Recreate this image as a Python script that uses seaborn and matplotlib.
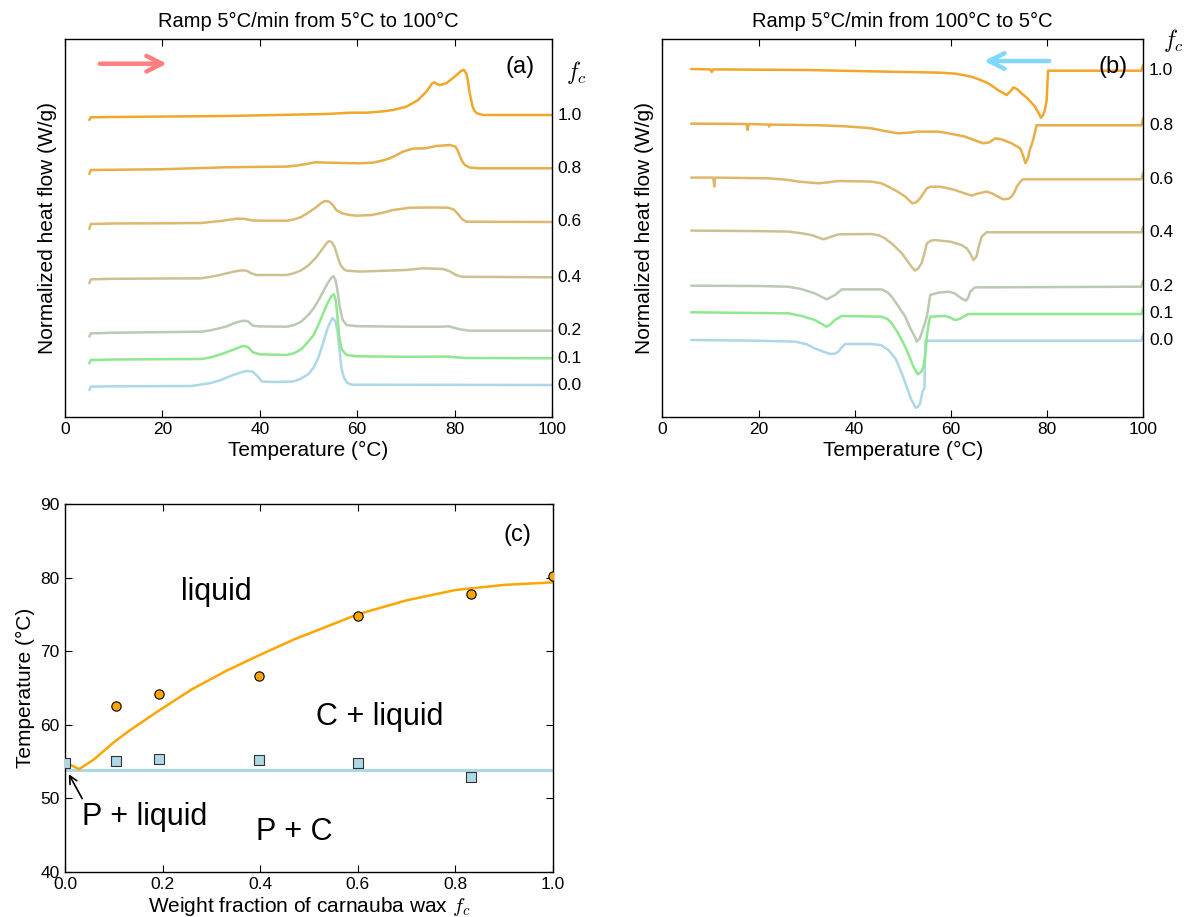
import numpy as np
import pandas as pd
import matplotlib
matplotlib.use("Agg")
import matplotlib.pyplot as plt
import seaborn as sns

# ---------------- data ----------------
FC_LEVELS = [0.0, 0.1, 0.2, 0.4, 0.6, 0.8, 1.0]
FC_LABELS = ["0.0", "0.1", "0.2", "0.4", "0.6", "0.8", "1.0"]
CURVE_COLORS = ["#ADD8E6", "#8FE88F", "#BACAB3", "#CEC190", "#DDB86E", "#E8AE48", "#F2A62A"]

# vertical offsets of each thermogram (arbitrary normalized heat flow units)
OFFSET_HEAT = [31.7, 58.4, 86.0, 139.4, 194.7, 248.4, 301.7]
OFFSET_COOL = [76.0, 102.7, 130.0, 184.4, 237.4, 291.4, 346.0]

# --- heating scans (panel a): temperature (°C) and heat flow relative to baseline
HEAT_T_00 = [5.0, 5.3, 10, 26, 30, 32, 34, 36, 37.3, 38.5, 39.5, 40.4, 43, 46.9, 48.5, 50, 51, 52, 53, 54, 54.9,
             55.5, 56.0, 56.4, 56.8, 57.3, 58.0, 58.8, 100]
HEAT_Y_00 = [-5, -1.7, -1.3, -1, 2, 5, 9, 12.5, 14, 13.5, 9, 3.5, 3, 3.5, 6.5, 11, 17, 27, 42, 58, 67,
             64, 52, 33, 16, 7, 2, 0.3, 0]
HEAT_T_01 = [5.0, 5.3, 10, 28, 30, 32, 34.5, 36.5, 37.5, 38.6, 40, 45.5, 47, 48.5, 50, 51, 52, 53, 54, 54.7, 55.2,
             55.6, 55.9, 56.3, 56.8, 57.8, 60, 70, 78.7, 82, 100]
HEAT_Y_01 = [-5, -1.7, -1.2, -0.7, 1, 4, 8.5, 12.3, 11.5, 6, 4, 3.3, 5, 9, 17, 23, 33, 45, 56, 62, 64,
             58, 44, 22, 9, 3.3, 2, 1.5, 1.7, 0.3, 0]
HEAT_T_02 = [5.0, 5.3, 10, 28, 30, 33, 35, 36.5, 37.5, 38.6, 40, 45.5, 47, 48.5, 50, 51, 52, 53, 54, 54.7, 55.1,
             55.5, 55.9, 56.4, 57.0, 57.8, 60, 70, 77.6, 78.7, 81, 83.1, 100]
HEAT_Y_02 = [-6, -2.7, -2, -1, 0.5, 4, 8, 10, 9.5, 5, 4.3, 4, 5.5, 9, 16, 22, 30, 39, 48, 53, 54.7,
             51, 42, 24, 11, 5.7, 4.5, 4, 4, 4.5, 1.5, 0, 0]
HEAT_T_04 = [5.0, 5.3, 10, 28, 30, 32, 34.5, 36.3, 37.3, 38.3, 39.3, 42, 45.5, 47, 48.5, 50, 51.5, 52.8, 53.7, 54.2,
             54.8, 55.4, 56.0, 56.6, 57.3, 57.8, 60.5, 65, 70.1, 73.5, 77.6, 79.0, 80.2, 81.5, 100]
HEAT_Y_04 = [-6, -2, -1.5, -1, 0.5, 2.5, 5.5, 7, 6.5, 4, 2.3, 2.3, 2.3, 4, 7, 12, 19.5, 28, 34, 36.3,
             35, 30, 20, 12, 8, 6.7, 5.7, 6.5, 7.3, 9, 8.3, 6, 2.5, 0.5, 0]
HEAT_T_06 = [5.0, 5.3, 10, 20, 28, 30, 32, 35.2, 36.5, 37.5, 38.6, 41, 45.5, 47, 48.5, 50, 51.5, 52.6, 53.4, 54.2,
             55.0, 55.7, 57.0, 58.5, 59.8, 63, 65, 67.4, 70.8, 75, 78.7, 79.8, 80.7, 81.5, 82.4, 100]
HEAT_Y_06 = [-7, -2, -1.5, -1.3, -1, 0, 1, 3.3, 3.3, 2.5, 1.5, 1.3, 1.3, 2.5, 5, 9.5, 14.5, 19, 21, 20.5,
             17, 12, 8.5, 7, 6.3, 7, 9, 12, 14.3, 14.5, 14.3, 12.5, 8, 3, 0.3, 0]
HEAT_T_08 = [5.0, 5.3, 19.5, 33, 45.5, 47.5, 49.6, 51.3, 53.7, 57, 60.5, 63.3, 65, 66.7, 68, 69.4, 71.5, 73.9,
             76.3, 79.0, 80.2, 80.6, 81.0, 81.5, 82.1, 83.1, 85.2, 100]
HEAT_Y_08 = [-5.7, -1.7, -1, 1, 1.7, 2.7, 4.3, 6, 5.7, 5.3, 5, 5.7, 7.5, 10, 13, 16.7, 19.7, 20,
             22.3, 23.3, 21.7, 18, 13.3, 7.5, 3.3, 0.7, 0, 0]
HEAT_T_10 = [5.0, 5.3, 10, 33, 53.7, 58.5, 62, 65, 67.4, 70.1, 72.5, 74.2, 75.4, 75.9, 76.5, 77.0, 78.3, 80.0,
             81.4, 81.9, 82.4, 82.7, 83.0, 83.4, 83.7, 84.1, 84.6, 85.8, 100]
HEAT_Y_10 = [-5, -2.3, -2, -1, 1, 2.3, 2.3, 3.5, 5, 8.3, 15, 23.3, 31.7, 32.7, 30.5, 30, 31.7, 38.3,
             44.3, 45, 41.7, 35, 25, 15, 8.3, 4, 1.7, 0, 0]

# --- cooling scans (panel b)
COOL_T_00 = [6, 20, 27.7, 30, 31.7, 33.5, 34.9, 35.8, 36.6, 37.3, 38, 43.5, 45.5, 47, 48.5, 49.8, 50.8, 51.8,
             52.7, 53.2, 53.6, 54.1, 54.5, 54.7, 70, 99.6, 100]
COOL_Y_00 = [0.7, 0, -1, -3.5, -7.7, -11, -13.3, -13, -11, -6.5, -3.3, -3.3, -4.5, -9.3, -18, -32.7, -46, -59.3,
             -67, -66, -62.7, -51, -47.7, 0, 0, 0, 5.7]
COOL_T_01 = [6, 20, 26.2, 29, 31.7, 34.2, 35.0, 35.9, 37.3, 45.6, 46.8, 47.7, 49, 50.5, 51.5, 52.2, 53.1, 53.8,
             54.3, 54.7, 55.0, 55.4, 55.7, 58.8, 59.8, 60.8, 61.8, 62.6, 63.6, 99.6, 100]
COOL_Y_01 = [1.7, 1, 0.7, -2, -6, -12.7, -10, -6, -2, -2.7, -5, -9.3, -19, -32.7, -44, -52.7, -60.3, -58,
             -52.7, -40, -22.7, -9, -2.7, -2, -3.5, -6, -5, -2.7, 0, 0, 5.7]
COOL_T_02 = [6, 20, 26.2, 29, 31.7, 34.2, 35.0, 35.9, 37.3, 45.6, 46.8, 47.7, 49, 50.5, 51.5, 52.5, 52.9, 53.5,
             53.9, 54.5, 55.0, 55.4, 55.7, 57.4, 59.5, 60.8, 62.2, 63.1, 63.6, 64, 65, 99.6, 100]
COOL_Y_02 = [1, 0.7, 0, -2.5, -6.7, -12.7, -10.5, -8.3, -2.7, -2.7, -5.5, -10, -19, -30, -41, -50, -55, -52,
             -46.7, -38, -30, -18, -8.3, -6, -5, -6.7, -11.7, -14, -11, -5, -0.7, 0, 6.7]
COOL_T_04 = [6, 20, 26.2, 29, 31, 33.5, 34.5, 35.2, 36.6, 43.5, 45, 46.3, 48, 49.8, 51, 51.8, 52.5, 53.2,
             53.9, 54.5, 55, 55.8, 56.7, 60, 62.2, 63.3, 63.9, 64.7, 65.3, 65.8, 66.4, 67.4, 99.6, 100]
COOL_Y_04 = [1.7, 1.2, 0.7, -1, -2.7, -7, -5.5, -4.3, -2, -1.7, -3, -6, -12.5, -21, -29, -34.3, -38.3, -36,
             -31, -21, -11, -8.5, -7.7, -9.5, -12.7, -16, -20.3, -27.7, -24.3, -14, -4.3, 0, 0, 5.7]
COOL_T_06 = [6, 10.6, 10.8, 11.0, 22, 26, 28.3, 32.4, 34.5, 36.6, 43.5, 45.5, 47, 48.8, 50.5, 51.3, 52, 52.8,
             53.6, 54.3, 55, 55.7, 57.4, 59, 60.8, 62.5, 64.3, 65.8, 67.4, 68.5, 69.5, 70.9, 72.0, 72.6, 73.2,
             73.7, 74.4, 75, 99.6, 100]
COOL_Y_06 = [1.7, 1.7, -7.3, 1.7, 1, -0.5, -2.3, -4, -3, -1.7, -2.3, -4, -7.3, -12, -17.3, -21, -24, -23,
             -19, -14, -9, -7.5, -7.3, -8.5, -10.7, -13.5, -16.3, -14, -12.3, -14, -16.7, -20, -19.5, -17.3,
             -13, -7.3, -2.5, 0, 0, 6.7]
COOL_T_08 = [6, 17.5, 17.7, 18.0, 22.1, 22.2, 22.4, 33, 38, 43.5, 46, 49, 51, 53.2, 57.4, 60, 62.9, 65,
             66.7, 68, 69.2, 70.5, 72.6, 74.4, 75.0, 75.5, 76.0, 76.4, 77.1, 77.8, 99.6, 100]
COOL_Y_08 = [1.7, 1.3, -4.7, 1.3, 0.7, -1.3, 0.7, 0, -1, -3, -5.5, -8, -7.5, -6.3, -6.3, -8.5, -11.3, -15,
             -18, -17, -13, -14, -18, -23, -30, -38, -33, -24.7, -14.7, 0, 0, 7]
COOL_T_10 = [6, 10.0, 10.3, 10.6, 30, 47, 53, 58, 61, 64.3, 66, 67.8, 70, 71.6, 72.3, 73.0, 73.8, 74.7,
             76, 77.5, 78.2, 78.7, 79.2, 79.6, 79.9, 80.2, 99.6, 100]
COOL_Y_10 = [1.7, 1.3, -1.3, 1.3, 0.7, -1, -1.5, -2, -3, -6, -9, -12.7, -20, -24.3, -21, -16.7, -18.5, -22.7,
             -28, -36, -42, -47, -44, -38, -30, 0, 0, 5.7]

HEAT_T = [HEAT_T_00, HEAT_T_01, HEAT_T_02, HEAT_T_04, HEAT_T_06, HEAT_T_08, HEAT_T_10]
HEAT_Y = [HEAT_Y_00, HEAT_Y_01, HEAT_Y_02, HEAT_Y_04, HEAT_Y_06, HEAT_Y_08, HEAT_Y_10]
COOL_T = [COOL_T_00, COOL_T_01, COOL_T_02, COOL_T_04, COOL_T_06, COOL_T_08, COOL_T_10]
COOL_Y = [COOL_Y_00, COOL_Y_01, COOL_Y_02, COOL_Y_04, COOL_Y_06, COOL_Y_08, COOL_Y_10]

# --- phase diagram (panel c)
LIQUIDUS_F = [0.104, 0.193, 0.397, 0.600, 0.832, 1.0]
LIQUIDUS_T = [62.5, 64.1, 66.6, 74.8, 77.7, 80.2]
EUTECTIC_F = [0.0, 0.104, 0.193, 0.397, 0.600, 0.832]
EUTECTIC_T = [54.8, 55.1, 55.3, 55.2, 54.8, 52.9]
FIT_F = [0.0, 0.029, 0.06, 0.10, 0.13, 0.19, 0.26, 0.33, 0.40, 0.47, 0.52, 0.60, 0.70, 0.80, 0.90, 1.0]
FIT_T = [54.9, 53.95, 55.3, 57.6, 59.1, 61.8, 64.8, 67.3, 69.5, 71.6, 72.9, 75.0, 76.9, 78.3, 79.0, 79.35]
EUTECTIC_LINE_F = [0.0, 1.0]
EUTECTIC_LINE_T = [53.85, 53.85]

# ---------------- style ----------------
sns.set_theme(style="ticks")
plt.rcParams["font.family"] = ["Liberation Sans", "DejaVu Sans"]
plt.rcParams["mathtext.fontset"] = "cm"
plt.rcParams["axes.edgecolor"] = "black"
plt.rcParams["axes.linewidth"] = 1.0
plt.rcParams["text.color"] = "black"
plt.rcParams["axes.labelcolor"] = "black"
plt.rcParams["xtick.color"] = "black"
plt.rcParams["ytick.color"] = "black"
plt.rcParams["lines.solid_joinstyle"] = "round"

W, H = 1185, 917
fig = plt.figure(figsize=(W / 100, H / 100), dpi=100)
axA = fig.add_axes([65 / W, 1 - 416.7 / H, 487 / W, 377.4 / H])
axB = fig.add_axes([662.3 / W, 1 - 416.7 / H, 481 / W, 377.4 / H])
axC = fig.add_axes([65 / W, 1 - 871.7 / H, 488 / W, 367.7 / H])

TICK_FS = 12.5
LABEL_FS = 15


def build_df(Ts, Ys, offsets):
    rows = []
    for lab, T, Y, off in zip(FC_LABELS, Ts, Ys, offsets):
        for t, y in zip(T, Y):
            rows.append((lab, t, y + off))
    return pd.DataFrame(rows, columns=["fc", "T", "q"])


pal = dict(zip(FC_LABELS, CURVE_COLORS))

for ax, Ts, Ys, offs, title in [
    (axA, HEAT_T, HEAT_Y, OFFSET_HEAT, "Ramp 5°C/min from 5°C to 100°C"),
    (axB, COOL_T, COOL_Y, OFFSET_COOL, "Ramp 5°C/min from 100°C to 5°C"),
]:
    df = build_df(Ts, Ys, offs)
    sns.lineplot(data=df, x="T", y="q", hue="fc", palette=pal, estimator=None,
                 sort=False, legend=False, linewidth=1.8, ax=ax)
    ax.set_xlim(0, 100)
    ax.set_ylim(0, 377.4)
    ax.set_yticks([])
    ax.set_xticks([0, 20, 40, 60, 80, 100])
    ax.tick_params(axis="x", direction="in", top=True, bottom=True, length=5,
                   width=0.8, labelsize=TICK_FS, pad=4, colors="black")
    ax.set_xlabel("Temperature (°C)", fontsize=LABEL_FS, labelpad=3)
    ax.set_ylabel("Normalized heat flow (W/g)", fontsize=LABEL_FS, labelpad=6)
    ax.set_title(title, fontsize=14.5, pad=9)
    for sp in ax.spines.values():
        sp.set_visible(True)
        sp.set_color("black")
    for lab, off in zip(FC_LABELS, offs):
        ax.text(1.012, off, lab, transform=ax.get_yaxis_transform(), fontsize=TICK_FS,
                va="center", ha="left")

axA.text(1.028, 344.7, r"$f_c$", transform=axA.get_yaxis_transform(), fontsize=17,
         va="center", ha="left")
axB.text(1.04, 376.7, r"$f_c$", transform=axB.get_yaxis_transform(), fontsize=17,
         va="center", ha="left")
axA.text(93.4, 349.7, "(a)", fontsize=17, ha="center", va="center")
axB.text(93.7, 349.7, "(b)", fontsize=17, ha="center", va="center")

axA.annotate("", xy=(21.5, 353), xytext=(6.6, 353),
             arrowprops=dict(arrowstyle="->", color="#FF7F7F", lw=3.2, mutation_scale=28))
axB.annotate("", xy=(66.3, 355.7), xytext=(81.0, 355.7),
             arrowprops=dict(arrowstyle="->", color="#80D8FF", lw=3.2, mutation_scale=28))

# ---------------- panel c ----------------
sns.lineplot(x=EUTECTIC_LINE_F, y=EUTECTIC_LINE_T, color="#ADD8E6", linewidth=2.2, ax=axC)
sns.lineplot(x=FIT_F, y=FIT_T, color="#FFA500", linewidth=1.8, sort=False, estimator=None, ax=axC)
sns.scatterplot(x=LIQUIDUS_F, y=LIQUIDUS_T, color="#FFA500", edgecolor="black", linewidth=0.8,
                s=45, marker="o", ax=axC, zorder=5)
sns.scatterplot(x=EUTECTIC_F, y=EUTECTIC_T, color="#ADD8E6", edgecolor="#333333", linewidth=0.8,
                s=55, marker="s", ax=axC, zorder=5)
axC.set_xlim(0, 1)
axC.set_ylim(40, 90)
axC.set_xticks([0.0, 0.2, 0.4, 0.6, 0.8, 1.0])
axC.set_yticks([40, 50, 60, 70, 80, 90])
axC.tick_params(direction="in", top=True, right=True, length=5, width=0.8,
                labelsize=TICK_FS, pad=4, colors="black")
for sp in axC.spines.values():
    sp.set_visible(True)
    sp.set_color("black")
axC.set_xlabel(r"Weight fraction of carnauba wax $f_c$", fontsize=LABEL_FS, labelpad=2)
axC.set_ylabel("Temperature (°C)", fontsize=LABEL_FS, labelpad=4)

axC.text(0.311, 77.0, "liquid", fontsize=22, ha="center", va="baseline")
axC.text(0.645, 60.0, "C + liquid", fontsize=22, ha="center", va="baseline")
axC.text(0.164, 46.3, "P + liquid", fontsize=22, ha="center", va="baseline")
axC.text(0.470, 44.3, "P + C", fontsize=22, ha="center", va="baseline")
axC.text(0.928, 85.8, "(c)", fontsize=17, ha="center", va="center")
axC.annotate("", xy=(0.005, 53.6), xytext=(0.038, 49.6),
             arrowprops=dict(arrowstyle="->", color="black", lw=1.2, mutation_scale=14))

fig.savefig("out.png", dpi=100)
